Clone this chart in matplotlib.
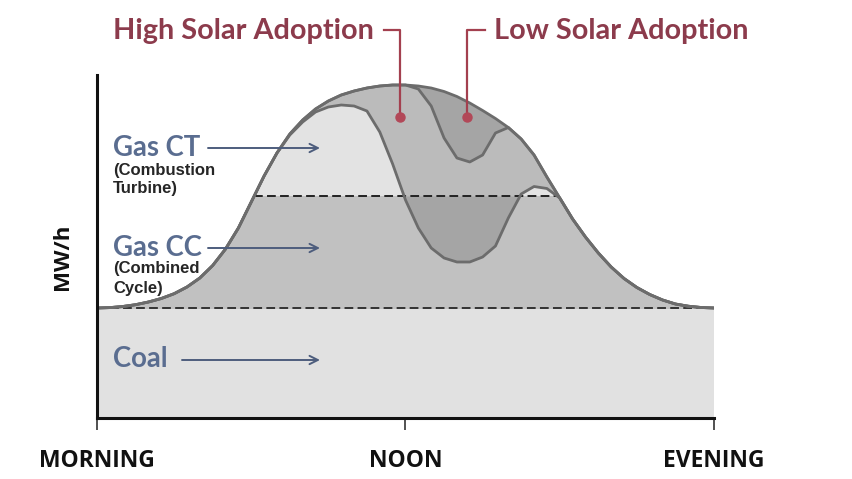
import numpy as np
import matplotlib
matplotlib.use("Agg")
import matplotlib.pyplot as plt

# ---------------- data ----------------
hours = [6.0, 6.25, 6.5, 6.75, 7.0, 7.25, 7.5, 7.75, 8.0, 8.25, 8.5, 8.75,
         9.0, 9.25, 9.5, 9.75, 10.0, 10.25, 10.5, 10.75, 11.0, 11.25, 11.5, 11.75,
         12.0, 12.25, 12.5, 12.75, 13.0, 13.25, 13.5, 13.75, 14.0, 14.25, 14.5, 14.75,
         15.0, 15.25, 15.5, 15.75, 16.0, 16.25, 16.5, 16.75, 17.0, 17.25, 17.5, 17.75, 18.0]

demand = [1100, 1104, 1115, 1133, 1160, 1195, 1243, 1310, 1400, 1525, 1690, 1900,
          2160, 2420, 2650, 2840, 2980, 3090, 3170, 3230, 3270, 3300, 3320, 3330,
          3330, 3320, 3300, 3265, 3215, 3150, 3075, 2995, 2905, 2790, 2630, 2410,
          2200, 1990, 1810, 1650, 1510, 1395, 1305, 1235, 1180, 1140, 1118, 1105, 1100]

high_solar = [1100, 1104, 1115, 1133, 1160, 1195, 1243, 1310, 1400, 1525, 1690, 1900,
              2160, 2420, 2650, 2830, 2960, 3060, 3110, 3130, 3120, 3070, 2860, 2540,
              2180, 1900, 1700, 1600, 1560, 1560, 1610, 1720, 2000, 2240, 2315, 2295,
              2200, 1990, 1810, 1650, 1510, 1395, 1305, 1235, 1180, 1140, 1118, 1105, 1100]

low_solar = [1100, 1104, 1115, 1133, 1160, 1195, 1243, 1310, 1400, 1525, 1690, 1900,
             2160, 2420, 2650, 2840, 2980, 3090, 3170, 3230, 3270, 3300, 3320, 3330,
             3330, 3290, 3120, 2800, 2600, 2560, 2630, 2850, 2905, 2790, 2630, 2410,
             2200, 1990, 1810, 1650, 1510, 1395, 1305, 1235, 1180, 1140, 1118, 1105, 1100]

coal_level = 1100
gas_cc_level = 2220

tick_hours = [6, 12, 18]
tick_labels = ["MORNING", "NOON", "EVENING"]

# ---------------- figure ----------------
W, H = 853, 479
fig = plt.figure(figsize=(W / 100, H / 100), dpi=100)
ax = fig.add_axes([97 / W, (H - 418) / H, 617 / W, 343 / H])

x = np.array(hours)
d = np.array(demand)
hs = np.array(high_solar)
ls = np.array(low_solar)

c_coal = "#e1e1e1"
c_dark = "#a5a5a5"
c_mid = "#bbbbbb"
c_cc = "#c1c1c1"
c_ct = "#e3e3e3"
c_line = "#6c6c6c"

ax.fill_between([6, 18], 0, coal_level, color=c_coal, lw=0, zorder=1)
ax.fill_between(x, coal_level, d, color=c_dark, lw=0, zorder=2)
ax.fill_between(x, gas_cc_level, ls, where=ls > gas_cc_level, interpolate=True,
                color=c_mid, lw=0, zorder=3)
ax.fill_between(x, coal_level, hs, color=c_cc, lw=0, zorder=4)
ax.fill_between(x, gas_cc_level, hs, where=hs > gas_cc_level, interpolate=True,
                color=c_ct, lw=0, zorder=5)

# dashed lines
k = int(np.argmax(d))
x_left = np.interp(gas_cc_level, d[:k + 1], x[:k + 1])
x_right = np.interp(gas_cc_level, d[k:][::-1], x[k:][::-1])
ax.plot([x_left, x_right], [gas_cc_level, gas_cc_level], color="#222222", lw=1.4,
        dashes=(4.5, 2.2), zorder=6)
ax.plot([6, 18], [coal_level, coal_level], color="#333333", lw=1.4,
        dashes=(4.5, 2.2), zorder=6)

# outlines
for yy in (hs, ls, d):
    ax.plot(x, yy, color=c_line, lw=2.0, zorder=7, solid_capstyle="round",
            solid_joinstyle="round")

ax.set_xlim(6, 18)
ax.set_ylim(0, 3430)
for s in ("top", "right"):
    ax.spines[s].set_visible(False)
for s in ("left", "bottom"):
    ax.spines[s].set_linewidth(2.2)
    ax.spines[s].set_color("#111111")
    ax.spines[s].set_zorder(10)
ax.set_yticks([])
ax.set_xticks(tick_hours)
ax.set_xticklabels(tick_labels, fontfamily="Open Sans", fontweight="bold",
                   fontsize=16.5, color="#111111")
ax.tick_params(axis="x", direction="out", length=8.6, width=1.1, color="#222222", pad=14)


def fx(px):
    return px / W


def fy(py):
    return (H - py) / H


# y label
fig.text(fx(63), fy(257), "MW/h", rotation=90, ha="center", va="center",
         fontfamily="Open Sans", fontweight="bold", fontsize=16, color="#111111")

# titles
title_c = "#8c3b4c"
brk_c = "#a3404f"
fig.text(fx(113), fy(38.5), "High Solar Adoption", ha="left", va="baseline",
         fontfamily="Lato", fontweight="bold", fontsize=20.8, color=title_c)
fig.text(fx(749), fy(38.5), "Low Solar Adoption", ha="right", va="baseline",
         fontfamily="Lato", fontweight="bold", fontsize=20.8, color=title_c)

for pts in ([(384, 30), (400, 30), (400, 117)], [(485, 30), (467, 30), (467, 117)]):
    xs = [fx(p[0]) for p in pts]
    ys = [fy(p[1]) for p in pts]
    fig.add_artist(plt.Line2D(xs, ys, color=brk_c, lw=1.6, transform=fig.transFigure,
                              zorder=20))
    fig.add_artist(plt.Line2D([xs[-1]], [ys[-1]], marker="o", ms=6.5, color="#b24858",
                              transform=fig.transFigure, zorder=21))

# left labels
lab_c = "#5a6d90"
sub_c = "#262626"
arr_c = "#4d5d7d"
big = 19.8
small = 12
fig.text(fx(113), fy(156), "Gas CT", ha="left", va="baseline", fontfamily="Lato",
         fontweight="bold", fontsize=big, color=lab_c, zorder=20)
fig.text(fx(113), fy(174.5), "(Combustion", ha="left", va="baseline",
         fontfamily="Liberation Sans", fontweight="bold", fontsize=small, color=sub_c, zorder=20)
fig.text(fx(113), fy(193.5), "Turbine)", ha="left", va="baseline",
         fontfamily="Liberation Sans", fontweight="bold", fontsize=small, color=sub_c, zorder=20)
fig.text(fx(113), fy(256), "Gas CC", ha="left", va="baseline", fontfamily="Lato",
         fontweight="bold", fontsize=big, color=lab_c, zorder=20)
fig.text(fx(113), fy(273.5), "(Combined", ha="left", va="baseline",
         fontfamily="Liberation Sans", fontweight="bold", fontsize=small, color=sub_c, zorder=20)
fig.text(fx(113), fy(292.5), "Cycle)", ha="left", va="baseline",
         fontfamily="Liberation Sans", fontweight="bold", fontsize=small, color=sub_c, zorder=20)
fig.text(fx(113), fy(367), "Coal", ha="left", va="baseline", fontfamily="Lato",
         fontweight="bold", fontsize=big, color=lab_c, zorder=20)

for (x0, x1, yy) in ((208, 320, 148), (208, 320, 248), (182, 320, 360)):
    ax.annotate("", xy=(x1, H - yy), xytext=(x0, H - yy), xycoords="figure pixels",
                textcoords="figure pixels",
                arrowprops=dict(arrowstyle="->,head_length=0.6,head_width=0.3",
                                color=arr_c, lw=1.4, shrinkA=0, shrinkB=0),
                zorder=20)

fig.savefig("out.png", dpi=100, facecolor="white")
